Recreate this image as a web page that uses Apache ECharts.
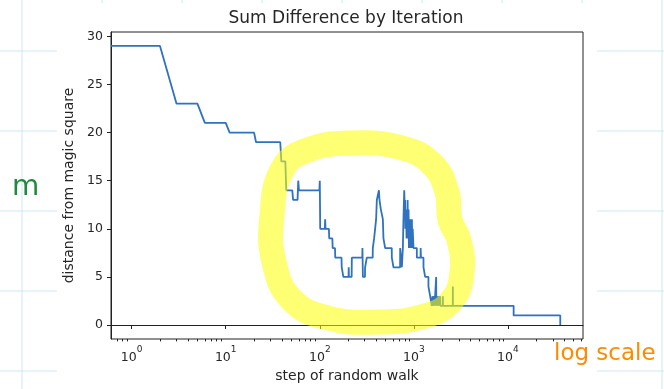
<!DOCTYPE html>
<html>
<head>
<meta charset="utf-8">
<script src="https://cdn.jsdelivr.net/npm/echarts@6/dist/echarts.min.js"></script>
<style>
  html, body { margin: 0; padding: 0; background: #fff; }
  #chart { width: 664px; height: 389px; }
</style>
</head>
<body>
<div id="chart"></div>
<script>
  // step at which the distance changes, and the new distance
  const steps = [1, 3, 6, 11, 21, 39, 44, 52, 59, 60, 100, 101, 114, 115, 126, 137, 146, 171, 178, 203, 204,
    219, 284, 287, 303, 316, 366, 378, 397, 404, 425, 431, 446, 468, 475, 495, 583, 607, 715, 745, 764,
    775, 790, 800, 807, 812, 825, 836, 843, 850, 858, 866, 878, 886, 896, 905, 914, 925, 933, 943, 953,
    962, 972, 991, 1076, 1180, 1190, 1266, 1318, 1429, 1490, 1549, 1580, 1600, 1640, 1660, 1726, 1730,
    1790, 1810, 1850, 1870, 1905, 1915, 2036, 2040, 2596, 2600, 11500, 36000]
  const dist = [29, 23, 21, 20, 19, 17, 14, 13, 15, 14, 15, 10, 11, 10, 9, 8, 7, 6, 5, 6, 5,
    7, 8, 5, 6, 7, 8, 9, 11, 13, 14, 13, 12, 11, 9, 8, 7, 6, 8, 6, 8,
    11, 14, 12, 13, 10, 12, 9, 12, 10, 13, 9, 12, 8, 11, 9, 11, 8, 10, 9, 11,
    8, 10, 8, 7, 8, 7, 6, 5, 4, 3, 2, 3, 2, 3, 2, 5, 2,
    3, 2, 3, 2, 3, 2, 3, 2, 4, 2, 1, 0]
  const xMajor = [1, 10, 100, 1000, 10000]
  const xMinor = []
  xMajor.concat([100000]).forEach(d => { for (let k = 2; k < 10; k++) xMinor.push(d * k / 10) })
  const yTicks = [0, 5, 10, 15, 20, 25, 30]

  const X_MIN = 0.603
  const X_MAX = 62800

  // line vertices: each change goes from the previous step to the next one
  const points = [[X_MIN, dist[0]]]
  for (let i = 1; i < steps.length; i++) {
    points.push([steps[i] - 1, dist[i - 1]])
    points.push([steps[i], dist[i]])
  }

  const font = 'DejaVu Sans'
  const ink = '#262626'

  // notebook paper grid behind the pasted plot
  const paper = []
  for (let x = 22; x < 664; x += 80) {
    paper.push({ type: 'line', z: -9, shape: { x1: x, y1: 0, x2: x, y2: 389 }, style: { stroke: '#cfe6f5', lineWidth: 1 } })
  }
  for (let y = 51; y < 389; y += 80) {
    paper.push({ type: 'line', z: -9, shape: { x1: 0, y1: y, x2: 664, y2: y }, style: { stroke: '#cfe6f5', lineWidth: 1 } })
  }
  paper.push({ type: 'rect', z: -8, shape: { x: 57, y: 3, width: 540, height: 386 }, style: { fill: '#fff' } })

  const chart = echarts.init(document.getElementById('chart'))
  chart.setOption({
    backgroundColor: '#fff',
    animation: false,
    textStyle: { fontFamily: font },
    title: {
      text: 'Sum Difference by Iteration',
      left: 341,
      textAlign: 'center',
      top: 5,
      textStyle: { fontFamily: font, fontSize: 17, fontWeight: 'normal', color: ink }
    },
    grid: {
      left: 111, right: 81, top: 32, bottom: 50,
      show: true, borderColor: '#222', borderWidth: 1, backgroundColor: '#fff'
    },
    xAxis: [{
      type: 'log',
      logBase: 10,
      min: X_MIN,
      max: X_MAX,
      name: 'step of random walk',
      nameLocation: 'middle',
      nameGap: 30,
      nameTextStyle: { fontFamily: font, fontSize: 14, color: ink },
      axisLine: { lineStyle: { color: '#222', width: 1 } },
      axisTick: { customValues: xMajor, length: 4, lineStyle: { color: '#222' } },
      axisLabel: {
        customValues: xMajor, margin: 6, fontFamily: font, color: ink,
        formatter: v => '{b|10}{e|' + Math.round(Math.log10(v)) + '}',
        rich: {
          b: { fontFamily: font, fontSize: 12.5, color: ink, lineHeight: 19, verticalAlign: 'bottom' },
          e: { fontFamily: font, fontSize: 9, color: ink, lineHeight: 19, verticalAlign: 'top', padding: [0, 0, 6, 0] }
        }
      },
      splitLine: { show: false },
      minorTick: { show: false }
    }, {
      type: 'log',
      logBase: 10,
      min: X_MIN,
      max: X_MAX,
      position: 'bottom',
      axisLine: { show: false },
      axisTick: { customValues: xMinor, length: 2.4, lineStyle: { color: '#222' } },
      axisLabel: { show: false },
      splitLine: { show: false }
    }],
    yAxis: {
      type: 'value',
      min: -1.45,
      max: 30.45,
      name: 'distance from magic square',
      nameLocation: 'middle',
      nameGap: 35,
      nameTextStyle: { fontFamily: font, fontSize: 14, color: ink },
      axisLine: { show: true, lineStyle: { color: '#222', width: 1 } },
      axisTick: { show: true, customValues: yTicks, length: 4, lineStyle: { color: '#222' } },
      axisLabel: { customValues: yTicks, margin: 8, fontFamily: font, fontSize: 12.5, color: ink },
      splitLine: { show: false }
    },
    series: [{
      type: 'line',
      xAxisIndex: 0,
      data: points,
      showSymbol: false,
      lineStyle: { color: '#2f72bf', width: 1.8 },
      clip: true
    }],
    graphic: paper.concat([
      {
        type: 'polygon',
        z: 100,
        shape: {
          smooth: 0.45,
          points: [[282, 170], [305, 151], [352, 143], [402, 148], [432, 164], [447, 192], [450, 220],
            [459, 240], [462, 272], [452, 300], [425, 316], [378, 322], [328, 318], [292, 300],
            [274, 262], [272, 215]]
        },
        style: { fill: null, stroke: 'rgba(255,255,0,0.55)', lineWidth: 25, lineJoin: 'round' }
      },
      {
        type: 'text', z: 100, left: 12, top: 174,
        style: { text: 'm', fontFamily: font, fontSize: 28, fill: '#1e8a3c' }
      },
      {
        type: 'text', z: 100, left: 554, top: 343,
        style: { text: 'log scale', fontFamily: font, fontSize: 23, fill: '#ff8a00' }
      }
    ])
  })
</script>
</body>
</html>
